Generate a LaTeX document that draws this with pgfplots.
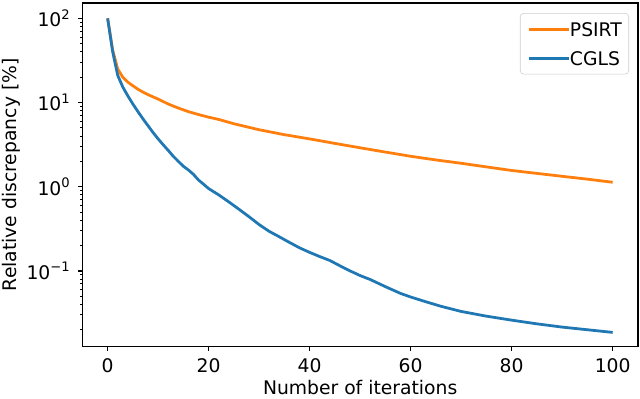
\documentclass[border=0pt]{standalone}
\usepackage{fontspec}
\setmainfont{DejaVu Sans}
\usepackage{pgfplots}
\pgfplotsset{compat=1.18}
\definecolor{mplblue}{HTML}{1F77B4}
\definecolor{mplorange}{HTML}{FF7F0E}

\newcommand{\mplfont}{\fontsize{13.5}{16}\selectfont}

\begin{document}
\begin{tikzpicture}
\begin{axis}[
    scale only axis,
    width=400pt,
    height=247.4pt,
    ymode=log,
    xmin=-5, xmax=105,
    ymin=0.0126, ymax=152,
    xtick={0,20,40,60,80,100},
    ytick={0.1,1,10,100},
    yticklabels={10\textsuperscript{−1},10\textsuperscript{0},10\textsuperscript{1},10\textsuperscript{2}},
    minor ytick={0.02,0.03,0.04,0.05,0.06,0.07,0.08,0.09,0.2,0.3,0.4,0.5,0.6,0.7,0.8,0.9,2,3,4,5,6,7,8,9,20,30,40,50,60,70,80,90},
    tick pos=left,
    tick align=outside,
    major tick length=3.1pt,
    minor tick length=1.8pt,
    every tick/.style={black, line width=0.9pt},
    minor tick style={line width=0.7pt},
    axis line style={line width=1pt},
    /pgf/number format/assume math mode=true,
    tick label style={font=\mplfont},
    xticklabel style={anchor=base, inner sep=0pt},
    xticklabel shift=15.6pt,
    yticklabel style={anchor=east, inner sep=0pt},
    yticklabel shift=5.3pt,
    xlabel={Number of iterations},
    ylabel={Relative discrepancy [\%]},
    xlabel style={font=\mplfont, at={(axis description cs:0.5,0)}, anchor=base,
        inner sep=0pt, yshift=-34.8pt, text depth=2.2pt},
    ylabel style={font=\mplfont, at={(axis description cs:-0.1178,0.5)}, anchor=base,
        inner sep=0pt, text height=12.2pt},
    legend cell align=left,
    legend style={at={(rel axis cs:0.984,0.971)}, anchor=north east,
        draw=black!20, rounded corners=2.5pt, fill=white, fill opacity=0.8, text opacity=1,
        font=\mplfont, inner xsep=5pt, inner ysep=1pt, row sep=0pt,
        nodes={inner sep=0pt, text height=15.37pt, text depth=5.53pt},
        /tikz/every even column/.append style={column sep=7.6pt}},
    legend image code/.code={
        \path (0pt,-4.9pt);
        \draw[#1] (0pt,0pt) -- (28.8pt,0pt);},
]
\addplot[mplorange, line width=2pt] coordinates {
(0,100) (1,42) (2,25) (3,20) (4,17.5) (5,15.8) (6,14.4) (7,13.3) (8,12.4)
(10,11) (12,9.6) (14,8.6) (16,7.8) (18,7.2) (20,6.7) (22,6.3) (25,5.6)
(30,4.75) (35,4.15) (40,3.7) (45,3.27) (50,2.9) (55,2.58) (60,2.3)
(65,2.08) (70,1.9) (75,1.72) (80,1.56) (85,1.44) (90,1.33) (95,1.23) (100,1.13)
};
\addlegendentry{PSIRT}
\addplot[mplblue, line width=2pt] coordinates {
(0,100) (1,40) (2,21) (3,15.3) (4,12) (5,9.6) (6,7.8) (7,6.4) (8,5.3) (9,4.4)
(10,3.7) (11,3.15) (12,2.7) (13,2.3) (14,2.0) (15,1.75) (16,1.58) (17,1.4)
(18,1.2) (19,1.07) (20,0.95) (22,0.8) (24,0.66) (26,0.54) (28,0.44) (30,0.355)
(32,0.295) (34,0.254) (36,0.218) (38,0.188) (40,0.166) (42,0.148) (44,0.133)
(46,0.115) (48,0.1) (50,0.088) (52,0.079) (55,0.065) (58,0.054) (60,0.049)
(63,0.043) (66,0.038) (70,0.033) (75,0.029) (80,0.026) (85,0.0235)
(90,0.0215) (95,0.020) (100,0.0186)
};
\addlegendentry{CGLS}
\end{axis}
\path (current axis.north east) ++(1.5pt,2.2pt);
\end{tikzpicture}
\end{document}
